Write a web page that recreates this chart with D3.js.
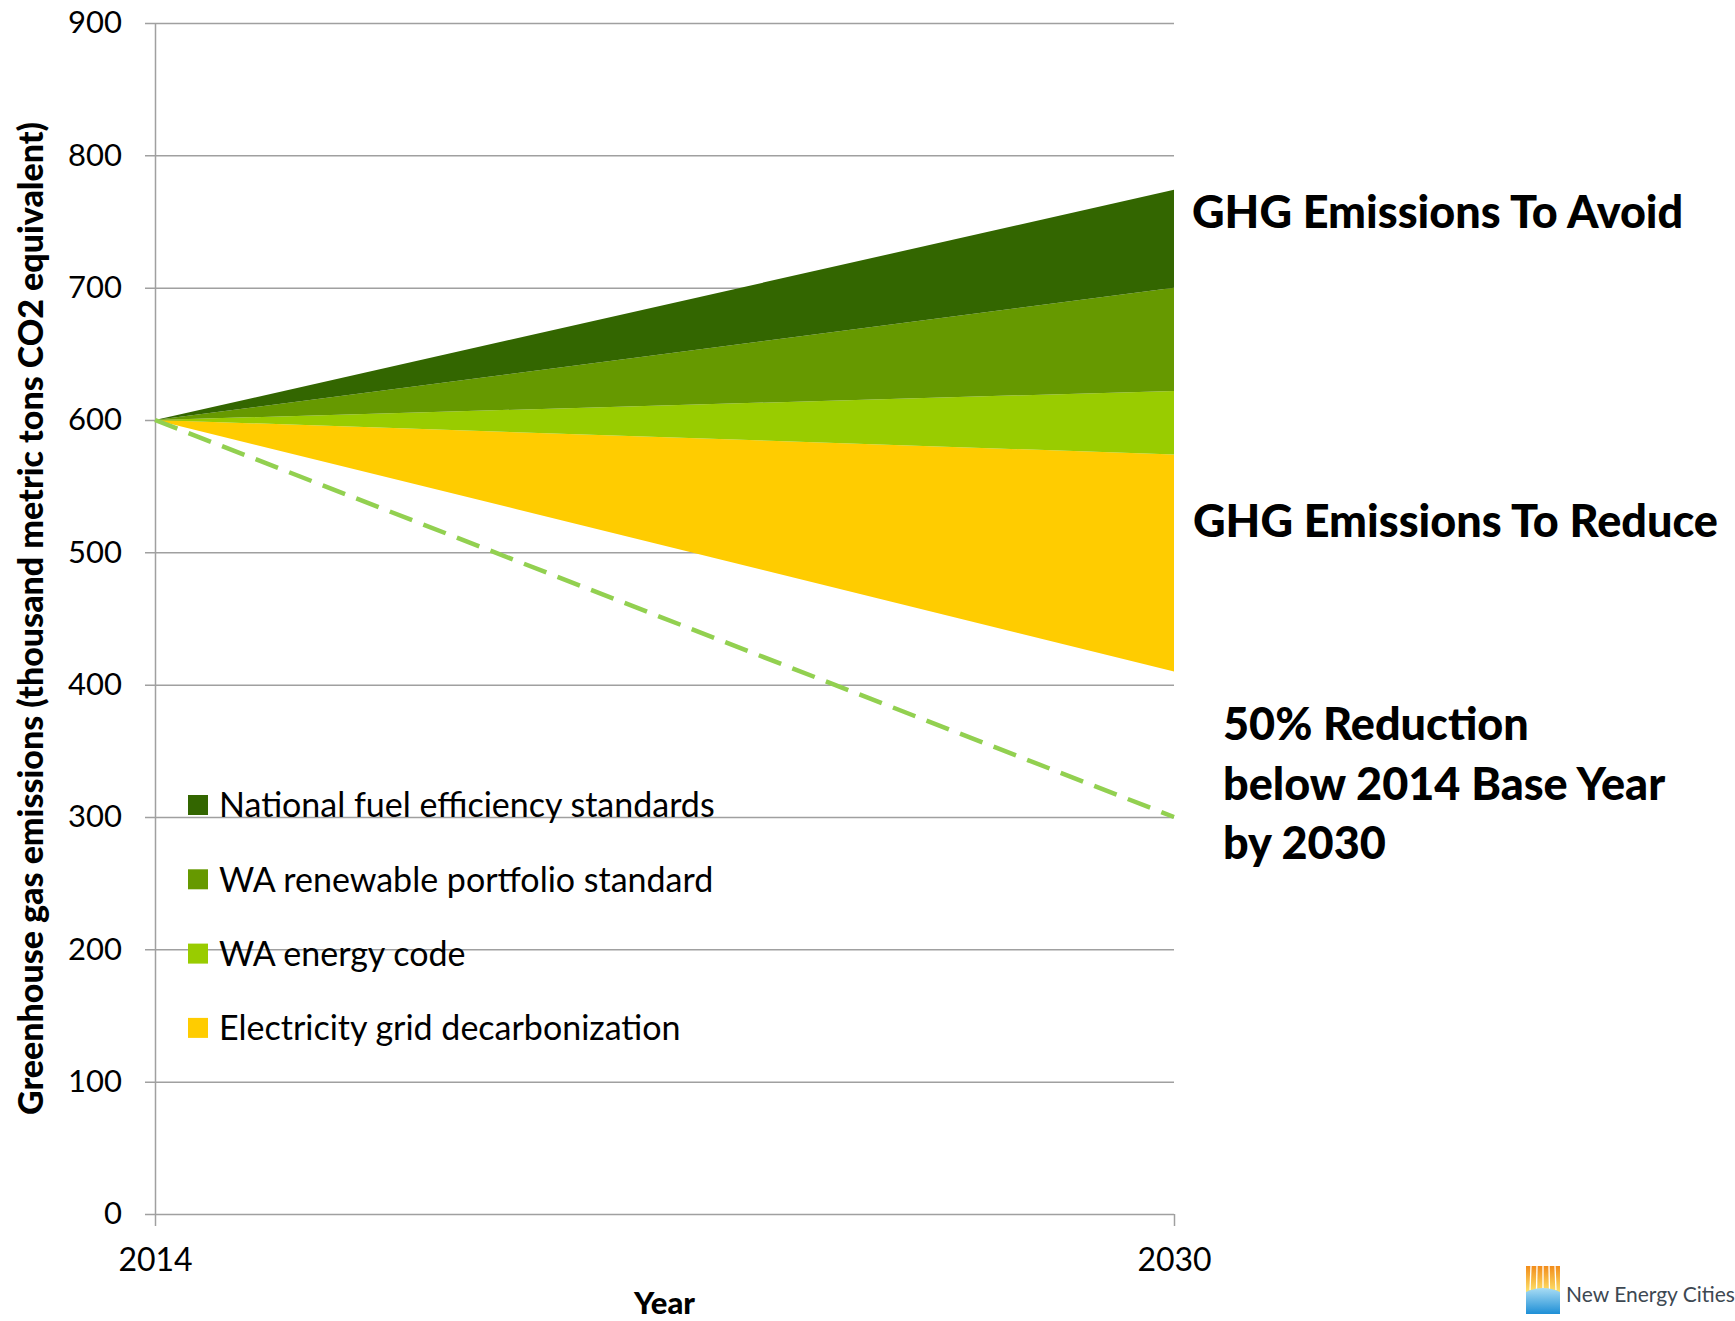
<!DOCTYPE html>
<html>
<head>
<meta charset="utf-8">
<script src="https://cdn.jsdelivr.net/npm/d3@7"></script>
<style>
  body { margin: 0; background: #fff; }
  text { font-family: Lato, "Open Sans", sans-serif; }
</style>
</head>
<body>
<div class="mainDiv"></div>
<script>
// data (thousand metric tons CO2e)
const years = [2014, 2030];
const remaining = [600, 410];      // emissions left after all measures (invisible base)
const gridDecarb = [0, 164];
const energyCode = [0, 48];
const rpsStd = [0, 78];
const fuelEff = [0, 74];
const target = [600, 300];        // 50% reduction path
const yTicks = [0, 100, 200, 300, 400, 500, 600, 700, 800, 900];
const legendNames = ["National fuel efficiency standards", "WA renewable portfolio standard",
  "WA energy code", "Electricity grid decarbonization"];
const legendKeys = ["fuel", "rps", "code", "grid"];
const colors = {fuel: "#336600", rps: "#669900", code: "#99cc00", grid: "#ffcc00"};

const W = 1735, H = 1321;
const margin = {top: 23, right: 561, bottom: 107, left: 155};

const svg = d3.select(".mainDiv").append("svg")
  .attr("width", W).attr("height", H);
svg.append("rect").attr("width", W).attr("height", H).attr("fill", "#fff");

const x = d3.scaleLinear().domain([2014, 2030]).range([margin.left, W - margin.right]);
const y = d3.scaleLinear().domain([0, 900]).range([H - margin.bottom, margin.top]);
const plotW = x.range()[1] - x.range()[0];

// gridlines + y labels
const yAxis = svg.append("g")
  .attr("transform", `translate(${margin.left},0)`)
  .call(d3.axisLeft(y).tickValues(yTicks).tickSize(-plotW).tickSizeOuter(0).tickPadding(33));
yAxis.select(".domain").attr("stroke", "#a0a0a0").attr("stroke-width", 1.5);
yAxis.selectAll(".tick line").attr("x1", -10).attr("stroke", "#a0a0a0").attr("stroke-width", 1.5);
yAxis.selectAll(".tick text").attr("font-size", 31).attr("fill", "#000")
  .style("font-family", "Lato");

// x axis
const xAxis = svg.append("g")
  .attr("transform", `translate(0,${y(0)})`)
  .call(d3.axisBottom(x).tickValues(years).tickSize(12).tickSizeOuter(0).tickPadding(22)
    .tickFormat(d3.format("d")));
xAxis.select(".domain").remove();
xAxis.selectAll(".tick line").attr("stroke", "#a0a0a0").attr("stroke-width", 1.5);
xAxis.selectAll(".tick text").attr("font-size", 32).attr("fill", "#000")
  .style("font-family", "Lato");

// stacked areas
const rows = years.map((yr, i) => ({
  year: yr, base: remaining[i], grid: gridDecarb[i], code: energyCode[i],
  rps: rpsStd[i], fuel: fuelEff[i]
}));
const stack = d3.stack().keys(["base", "grid", "code", "rps", "fuel"])(rows);
const area = d3.area()
  .x(d => x(d.data.year))
  .y0(d => y(d[0]))
  .y1(d => y(d[1]));
svg.append("g").selectAll("path")
  .data(stack.filter(s => s.key != "base"))
  .join("path")
  .attr("d", area)
  .attr("fill", s => colors[s.key]);

// target dashed line
const line = d3.line().x((d, i) => x(years[i])).y(d => y(d));
svg.append("path")
  .datum(target)
  .attr("d", line)
  .attr("fill", "none")
  .attr("stroke", "#92d050")
  .attr("stroke-width", 4.5)
  .attr("stroke-dasharray", "24,12");

// y title
svg.append("text")
  .attr("transform", `translate(43,${(y(0) + y(900)) / 2}) rotate(-90)`)
  .attr("text-anchor", "middle")
  .attr("font-size", 34)
  .attr("font-weight", 900)
  .text("Greenhouse gas emissions (thousand metric tons CO2 equivalent)");

// x title
svg.append("text")
  .attr("x", (x.range()[0] + x.range()[1]) / 2)
  .attr("y", 1314)
  .attr("text-anchor", "middle")
  .attr("font-size", 31)
  .attr("font-weight", 900)
  .text("Year");

// legend
const legend = svg.append("g");
legendKeys.forEach((k, i) => {
  const cy = 805 + i * 74.3;
  legend.append("rect")
    .attr("x", 188).attr("y", cy - 10)
    .attr("width", 20).attr("height", 20)
    .attr("fill", colors[k]);
  legend.append("text")
    .attr("x", 219).attr("y", cy)
    .attr("dy", "0.36em")
    .attr("font-size", 34)
    .text(legendNames[i]);
});

// annotations
const notes = [
  {t: "GHG Emissions To Avoid", x: 1192, y: 228},
  {t: "GHG Emissions To Reduce", x: 1193, y: 537},
  {t: "50% Reduction", x: 1223, y: 740},
  {t: "below 2014 Base Year", x: 1223, y: 800},
  {t: "by 2030", x: 1223, y: 859}
];
svg.append("g").selectAll("text")
  .data(notes)
  .join("text")
  .attr("x", d => d.x).attr("y", d => d.y)
  .attr("font-size", 45)
  .attr("font-weight", 900)
  .text(d => d.t);

// New Energy Cities logo
const defs = svg.append("defs");
const sun = defs.append("linearGradient").attr("id", "sun").attr("x1", 0).attr("y1", 0).attr("x2", 0).attr("y2", 1);
sun.append("stop").attr("offset", "0%").attr("stop-color", "#f28c1a");
sun.append("stop").attr("offset", "100%").attr("stop-color", "#fde26a");
const sea = defs.append("linearGradient").attr("id", "sea").attr("x1", 0).attr("y1", 0).attr("x2", 0).attr("y2", 1);
sea.append("stop").attr("offset", "0%").attr("stop-color", "#a8dcf4");
sea.append("stop").attr("offset", "100%").attr("stop-color", "#1e8fd6");
const logo = svg.append("g").attr("transform", "translate(1526,1266)");
logo.append("rect").attr("width", 34).attr("height", 26).attr("fill", "url(#sun)");
[5, 11, 17, 23, 29].forEach(gx => {
  logo.append("line").attr("x1", gx).attr("x2", gx + (gx - 17) * 0.08).attr("y1", 0).attr("y2", 24)
    .attr("stroke", "#fff").attr("stroke-width", 1.3);
});
logo.append("path")
  .attr("d", "M0,26 Q17,18 34,26 L34,48 L0,48 Z")
  .attr("fill", "url(#sea)");
svg.append("text")
  .attr("x", 1566).attr("y", 1302)
  .attr("font-size", 21)
  .attr("fill", "#3d4852")
  .text("New Energy Cities");
</script>
</body>
</html>
